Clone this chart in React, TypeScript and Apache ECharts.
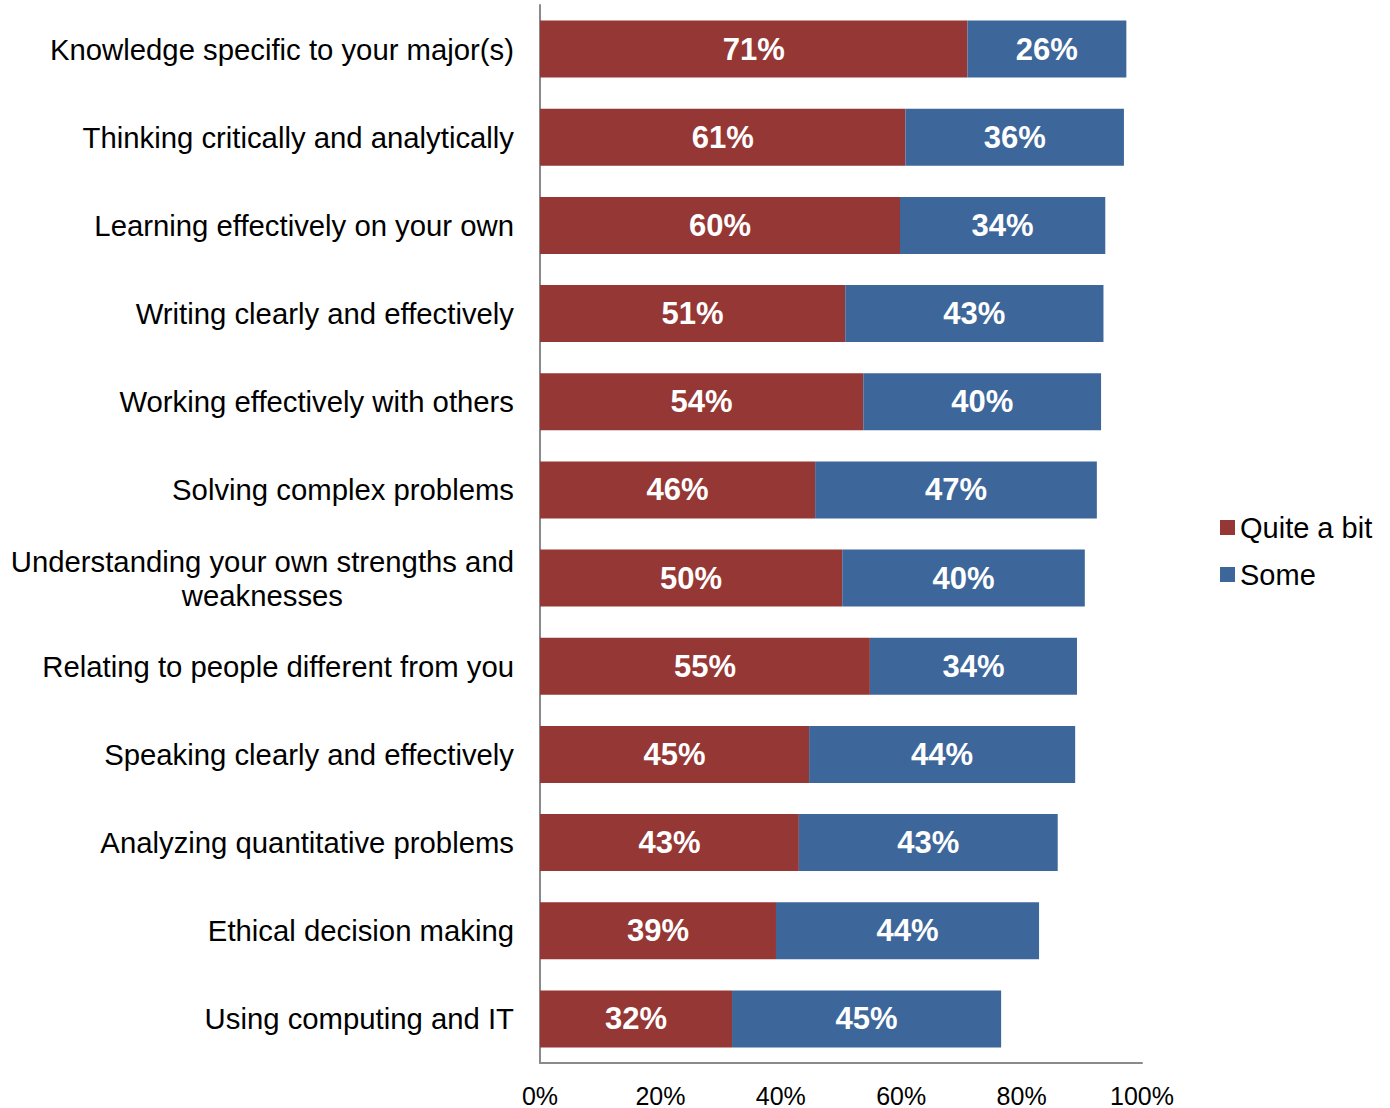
import React, { useEffect, useRef } from "react";
import * as echarts from "echarts";

const categories = [
  "Knowledge specific to your major(s)",
  "Thinking critically and analytically",
  "Learning effectively on your own",
  "Writing clearly and effectively",
  "Working effectively with others",
  "Solving complex problems",
  "Understanding your own strengths and\nweaknesses",
  "Relating to people different from you",
  "Speaking clearly and effectively",
  "Analyzing quantitative problems",
  "Ethical decision making",
  "Using computing and IT",
];

const quiteABit = [71.0, 60.7, 59.8, 50.7, 53.7, 45.7, 50.2, 54.8, 44.7, 43.0, 39.2, 31.9];
const some = [26.4, 36.3, 34.1, 42.9, 39.5, 46.8, 40.3, 34.4, 44.2, 43.0, 43.7, 44.7];

const seriesNames = ["Quite a bit", "Some"];
const seriesColors = ["#953735", "#3D679B"];

const FONT = "'Liberation Sans', Arial, Helvetica, sans-serif";

export default function App() {
  const ref = useRef<HTMLDivElement>(null);

  useEffect(() => {
    if (!ref.current) return;
    const chart = echarts.init(ref.current, undefined, { renderer: "svg" });
    const dataLabel = {
      show: true,
      position: "inside",
      color: "#ffffff",
      fontWeight: "bold",
      fontSize: 31,
      fontFamily: FONT,
      formatter: (p: any) => Math.round(p.value) + "%",
    };
    chart.setOption({
      animation: false,
      backgroundColor: "#ffffff",
      textStyle: { fontFamily: FONT },
      grid: { left: 540, right: 248, top: 5, bottom: 45, containLabel: false },
      legend: {
        orient: "vertical",
        left: 1220,
        top: 513,
        padding: 0,
        itemWidth: 15,
        itemHeight: 15,
        itemGap: 18,
        icon: "rect",
        data: seriesNames,
        textStyle: { fontSize: 29, color: "#000000", fontFamily: FONT },
      },
      xAxis: {
        type: "value",
        min: 0,
        max: 100,
        interval: 20,
        splitLine: { show: false },
        axisTick: { show: false },
        axisLine: { show: true, lineStyle: { color: "#8a8a8a", width: 2 } },
        axisLabel: {
          formatter: "{value}%",
          fontSize: 25,
          color: "#000000",
          margin: 20,
          fontFamily: FONT,
        },
      },
      yAxis: {
        type: "category",
        inverse: true,
        data: categories,
        axisTick: { show: false },
        axisLine: { show: true, lineStyle: { color: "#8a8a8a", width: 2 } },
        axisLabel: {
          margin: 26,
          color: "#000000",
          fontFamily: FONT,
          formatter: (v: string) =>
            v
              .split("\n")
              .map((s) => "{c|" + s + "}")
              .join("\n"),
          rich: {
            c: {
              fontSize: 29.3,
              lineHeight: 34,
              align: "center",
              color: "#000000",
              fontFamily: FONT,
            },
          },
        },
      },
      series: [
        {
          name: seriesNames[0],
          type: "bar",
          stack: "total",
          barWidth: 57,
          data: quiteABit,
          itemStyle: { color: seriesColors[0] },
          label: dataLabel,
        },
        {
          name: seriesNames[1],
          type: "bar",
          stack: "total",
          barWidth: 57,
          data: some,
          itemStyle: { color: seriesColors[1] },
          label: dataLabel,
        },
      ],
    });
    return () => chart.dispose();
  }, []);

  return (
    <div
      ref={ref}
      style={{ position: "fixed", left: 0, top: 0, width: 1390, height: 1108 }}
    />
  );
}
